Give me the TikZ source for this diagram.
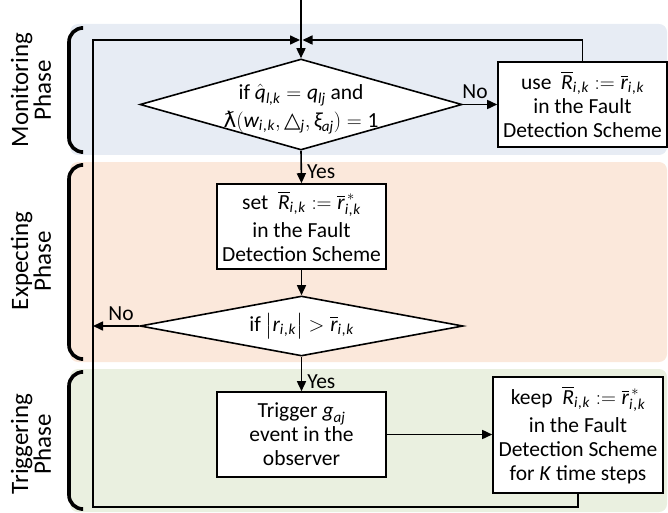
\documentclass[tikz,border=0pt]{standalone}
\usepackage{amsmath}
\usepackage{fontspec}
\setmainfont{Carlito}
\newfontfamily\djvfont{DejaVu Sans}
\usetikzlibrary{shapes.geometric,arrows.meta}

% italic Carlito letters inside formulas
\newcommand{\mi}[1]{\text{\itshape #1}}
% subscript pair "i,k" with a little air round the comma
\newcommand{\ik}{\mi{i\kern1pt,\kern0.5pt k}}

\definecolor{bgblue}{HTML}{E7ECF4}
\definecolor{bgorange}{HTML}{FBE8DB}
\definecolor{bggreen}{HTML}{EAF0E0}

\begin{document}
\begin{tikzpicture}[x=1pt,y=-1pt,
  font=\fontsize{21.5}{24}\selectfont,
  box/.style={draw, line width=1.6pt, fill=white, inner sep=0pt, align=center},
  decision/.style={draw, shape=diamond, fill=white, line width=1.6pt, inner sep=0pt},
  flow/.style={line width=1.6pt, -{Triangle[length=10pt,width=9pt]}},
  plain/.style={line width=1.6pt},
  lbl/.style={inner sep=1pt},
  phase/.style={rotate=90, align=center, font=\fontsize{25}{21}\selectfont},
  bracket/.style={line width=3.6pt, rounded corners=14pt}]

\useasboundingbox (0,0) rectangle (668,513);

% phase bands
\fill[bgblue, rounded corners=8pt] (70,24) rectangle (667,155);
\fill[bgorange, rounded corners=8pt] (70,162) rectangle (667,362);
\fill[bggreen, rounded corners=8pt] (70,369) rectangle (667,512);

\draw[bracket] (81,28) -- (69,28) -- (69,152) -- (81,152);
\draw[bracket] (81,165) -- (69,165) -- (69,359) -- (81,359);
\draw[bracket] (81,372) -- (69,372) -- (69,509) -- (81,509);

\node[phase] (pmon) at (31,90) {Monitoring\\Phase};
\node[phase] (pexp) at (31,261) {Expecting\\Phase};
\node[phase] (ptrg) at (31,444) {Triggering\\Phase};

% flow chart
\node[decision, minimum width=322pt, minimum height=91pt] (d1) at (301,104.5) {};
\node[align=center, inner sep=0pt] (t1) at (301,109)
  {if $\hat{\mi{q}}_{\mi{l,k}} = \mi{q}_{\mi{lj}}$ and\\[4pt]
   $\text{\djvfont ƛ}(\mi{w}_{\ik},\text{\djvfont △}_{\mi{j}},\mi{ξ}_{\mi{aj}})=\text{1}$};

\node[box, minimum width=169pt, minimum height=85pt] (use) at (582.5,104.5)
  {use\ \ $\overline{\mi{R}}_{\ik} \mathrel{:=} \overline{\mi{r}}_{\ik}$\\in the Fault\\Detection Scheme};

\node[box, minimum width=169pt, minimum height=85pt] (set) at (301.5,226.5)
  {set\ \ $\overline{\mi{R}}_{\ik} \mathrel{:=} \overline{\mi{r}}^{\,*}_{\ik}$\\[4pt]in the Fault\\Detection Scheme};

\node[decision, minimum width=323pt, minimum height=60pt] (d2) at (301.5,326) {};
\node[inner sep=0pt] (t2) at (301.5,326)
  {if $\bigl|\mi{r}_{\ik}\bigr| > \overline{\mi{r}}_{\ik}$};

\node[box, minimum width=169pt, minimum height=85pt] (trig) at (301.5,434.5)
  {Trigger $\mi{g}_{\mi{aj}}$\\event in the\\observer};

\node[box, minimum width=170pt, minimum height=116pt] (keep) at (578,435)
  {keep\ \ $\overline{\mi{R}}_{\ik} \mathrel{:=} \overline{\mi{r}}^{\,*}_{\ik}$\\[4pt]in the Fault\\Detection Scheme\\for \textit{K} time steps};

% loop points
\coordinate (start) at (301,0);
\coordinate (merge) at (301,40);
\coordinate (tl) at (93,40);
\coordinate (bl) at (93,507);
\coordinate (br) at (578,507);
\coordinate (ur) at (582.5,40);

\draw[plain] (start) -- (merge);
\draw[flow] (merge) -- (d1.north);
\draw[flow] (keep.south) -- (br) -- (bl) -- (tl) -- ([xshift=-1pt]merge);
\draw[flow] (use.north) -- (ur) -- ([xshift=1.5pt]merge);

\draw[flow] (d1.east) -- node[lbl, above, inner sep=5pt, xshift=-5pt] {No} (use.west);
\draw[flow] (d1.south) -- node[lbl, right, pos=0.65, xshift=4pt] {Yes} (set.north);
\draw[flow] (set.south) -- (d2.north);
\draw[flow] (d2.west) -- node[lbl, above, inner sep=5pt, xshift=5pt] {No} (d2.west -| tl);
\draw[flow] (d2.south) -- node[lbl, right, pos=0.72, xshift=4pt] {Yes} (trig.north);
\draw[flow] (trig.east) -- (trig.east -| keep.west);

\end{tikzpicture}
\end{document}
